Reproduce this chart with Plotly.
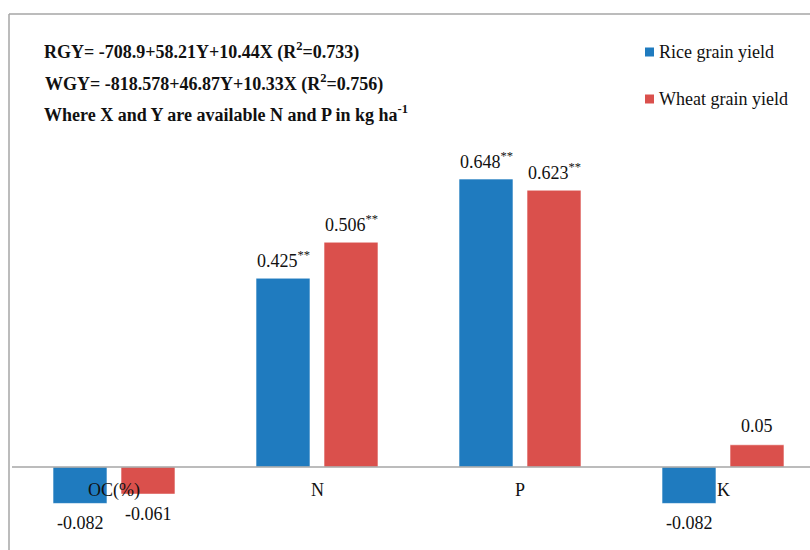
import plotly.graph_objects as go

# Correlation of soil properties with grain yield
categories = ["OC(%)", "N", "P", "K"]
rice_r = [-0.082, 0.425, 0.648, -0.082]
wheat_r = [-0.061, 0.506, 0.623, 0.05]
rice_sig = ["", "**", "**", ""]
wheat_sig = ["", "**", "**", ""]
series_names = ["Rice grain yield", "Wheat grain yield"]
equations = [
    "RGY= -708.9+58.21Y+10.44X (R<sup>2</sup>=0.733)",
    "WGY= -818.578+46.87Y+10.33X (R<sup>2</sup>=0.756)",
    "Where X and Y are available N and P in kg ha<sup>-1</sup>",
]

BLUE = "#1F7BBF"
RED = "#DA504C"
GRID = "#A6A6A6"
FONT = "Liberation Serif"

W, H = 810, 550
ML, MT = 9, 14
PW, PH = W - ML, H - MT


def px(x):
    return (x - ML) / PW


def py(y):
    return (H - y) / PH


fig = go.Figure()
fig.add_trace(go.Bar(x=categories, y=rice_r, name=series_names[0],
                     marker=dict(color=BLUE, line=dict(color="rgba(255,255,255,0.6)", width=1))))
fig.add_trace(go.Bar(x=categories, y=wheat_r, name=series_names[1],
                     marker=dict(color=RED, line=dict(color="rgba(255,255,255,0.6)", width=1))))

annotations = []
# value labels above / below each bar
for vals, sigs, off in ((rice_r, rice_sig, -0.1675), (wheat_r, wheat_sig, 0.1675)):
    for i, (v, s) in enumerate(zip(vals, sigs)):
        txt = str(v) + (f"<sup>{s}</sup>" if s else "")
        annotations.append(dict(
            x=i + off, y=v, xref="x", yref="y", text=txt, showarrow=False,
            yanchor="middle", yshift=19 if v > 0 else -20,
            font=dict(family=FONT, size=18, color="#111"),
        ))

# category labels sitting on the zero line
for i, c in enumerate(categories):
    annotations.append(dict(
        x=i, y=0, xref="x", yref="y", text=c, showarrow=False,
        yanchor="middle", yshift=-23,
        font=dict(family=FONT, size=18, color="#111"),
    ))

# regression equations
for k, (eq, yy) in enumerate(zip(equations, [51, 83, 114])):
    annotations.append(dict(
        x=px(42 + (1 if k == 1 else 0)), y=py(yy), xref="paper", yref="paper",
        text=f"<b>{eq}</b>", showarrow=False, xanchor="left", yanchor="middle",
        font=dict(family=FONT, size=18, color="#111"),
    ))

# legend
shapes = []
for name, col, yy in ((series_names[0], BLUE, 52), (series_names[1], RED, 99)):
    shapes.append(dict(type="rect", xref="paper", yref="paper",
                       x0=px(645), x1=px(654), y0=py(yy + 4.5), y1=py(yy - 4.5),
                       fillcolor=col, line=dict(width=0)))
    annotations.append(dict(
        x=px(657), y=py(yy), xref="paper", yref="paper", text=name,
        showarrow=False, xanchor="left", yanchor="middle",
        font=dict(family=FONT, size=18, color="#111"),
    ))

# chart border (top and left) and zero line
shapes.append(dict(type="line", xref="paper", yref="paper", x0=0, x1=1, y0=1, y1=1,
                   line=dict(color=GRID, width=1.5)))
shapes.append(dict(type="line", xref="paper", yref="paper", x0=0, x1=0, y0=0, y1=1,
                   line=dict(color=GRID, width=1.5)))
shapes.append(dict(type="line", xref="paper", yref="y", x0=px(12), x1=1, y0=0, y1=0,
                   line=dict(color=GRID, width=1.5)))

y_per_unit = 444.4
zero_px = 467
fig.update_layout(
    width=W, height=H,
    margin=dict(l=ML, r=0, t=MT, b=0, pad=0),
    paper_bgcolor="white", plot_bgcolor="white",
    barmode="group", bargap=0.33, bargroupgap=0.206,
    showlegend=False,
    xaxis=dict(range=[-(114 - ML) / 203, -(114 - ML) / 203 + PW / 203],
               showticklabels=False, showgrid=False, zeroline=False, showline=False),
    yaxis=dict(range=[-(H - zero_px) / y_per_unit, (zero_px - MT) / y_per_unit],
               showticklabels=False, showgrid=False, zeroline=False, showline=False),
    annotations=annotations,
    shapes=shapes,
)

fig.write_html("out.html")
